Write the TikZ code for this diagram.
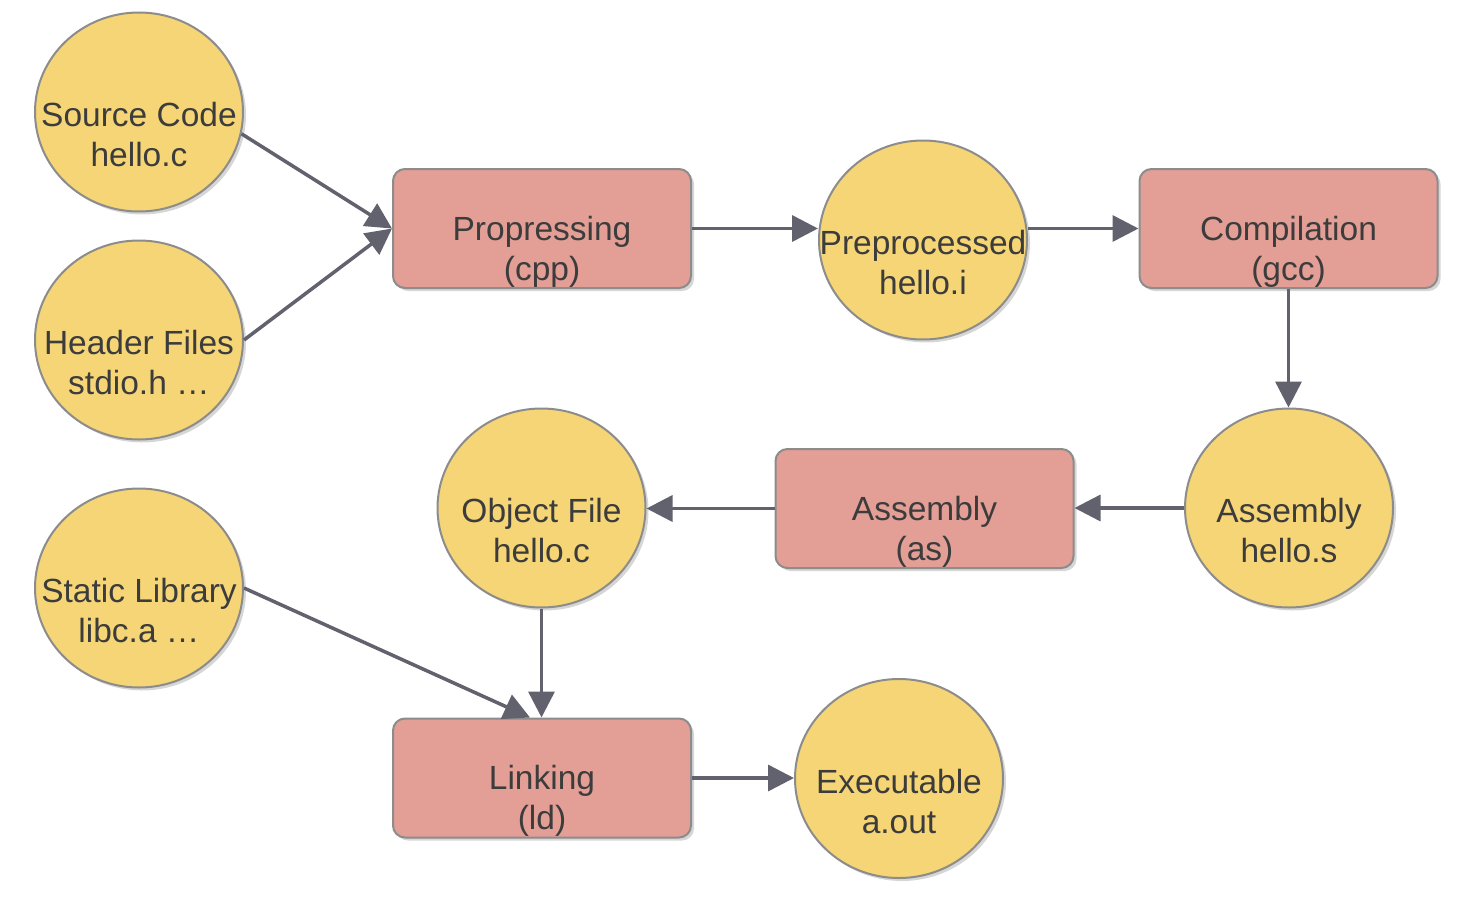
\documentclass[tikz,border=0pt]{standalone}
\usepackage{fontspec}
\setmainfont{Liberation Sans}
\usetikzlibrary{shapes.geometric,arrows.meta,shadows}
\definecolor{circfill}{HTML}{F5D575}
\definecolor{rectfill}{HTML}{E39E96}
\definecolor{bordergray}{HTML}{8C8C8C}
\definecolor{arrowgray}{HTML}{62626F}
\definecolor{textgray}{HTML}{3C3C3C}
\begin{document}
\begin{tikzpicture}[x=1pt,y=-1pt,
  shadowed/.style={drop shadow={shadow xshift=3pt,shadow yshift=-3pt,fill=black!45,opacity=0.35}},
  circ/.style={ellipse,draw=bordergray,line width=2pt,fill=circfill,inner sep=0pt,
    minimum width=208pt,minimum height=199pt,shadowed},
  proc/.style={rectangle,rounded corners=12pt,draw=bordergray,line width=2pt,fill=rectfill,
    inner sep=0pt,minimum width=298pt,minimum height=119pt,shadowed},
  lbl/.style={align=center,text=textgray,inner sep=0pt,yshift=-23pt,
    font=\fontsize{33.5}{40}\selectfont},
  conn/.style={draw=arrowgray,line width=3.5pt,-{Triangle[length=26pt,width=26pt]}}
]
\useasboundingbox (0,0) rectangle (1466,910);
\fill[white] (0,0) rectangle (1466,910);

\node[circ] (src) at (139,112) {};
\node[lbl] (srct) at (src.center) {Source Code\\hello.c};
\node[circ] (hdr) at (139,340) {};
\node[lbl] (hdrt) at (hdr.center) {Header Files\\stdio.h …};
\node[proc] (prop) at (542,228.5) {};
\node[lbl] (propt) at (prop.center) {Propressing\\(cpp)};
\node[circ] (pre) at (923,240) {};
\node[lbl] (pret) at (pre.center) {Preprocessed\\hello.i};
\node[proc] (comp) at (1288.5,228.5) {};
\node[lbl] (compt) at (comp.center) {Compilation\\(gcc)};
\node[circ] (asms) at (1289,508) {};
\node[lbl] (asmst) at (asms.center) {Assembly\\hello.s};
\node[proc] (asm) at (924.5,508.5) {};
\node[lbl] (asmt) at (asm.center) {Assembly\\(as)};
\node[circ] (obj) at (541.5,508) {};
\node[lbl] (objt) at (obj.center) {Object File\\hello.c};
\node[circ] (lib) at (139,588) {};
\node[lbl] (libt) at (lib.center) {Static Library\\libc.a …};
\node[proc] (link) at (542,778) {};
\node[lbl] (linkt) at (link.center) {Linking\\(ld)};
\node[circ] (exe) at (899,778.5) {};
\node[lbl] (exet) at (exe.center) {Executable\\a.out};

\draw[conn] (src.-12) -- (prop.west);
\draw[conn] (hdr.east) -- (prop.west);
\draw[conn] (prop.east) -- (prop.east -| pre.west);
\draw[conn] (comp.west -| pre.east) -- (comp.west);
\draw[conn] (comp.south) -- (comp.south |- asms.north);
\draw[conn] (asms.west) -- (asms.west -| asm.east);
\draw[conn] (asm.west) -- (asm.west -| obj.east);
\draw[conn] (obj.south) -- (obj.south |- link.north);
\draw[conn] (lib.east) -- ([xshift=-12pt]link.north);
\draw[conn] (link.east) -- (link.east -| exe.west);
\end{tikzpicture}
\end{document}
